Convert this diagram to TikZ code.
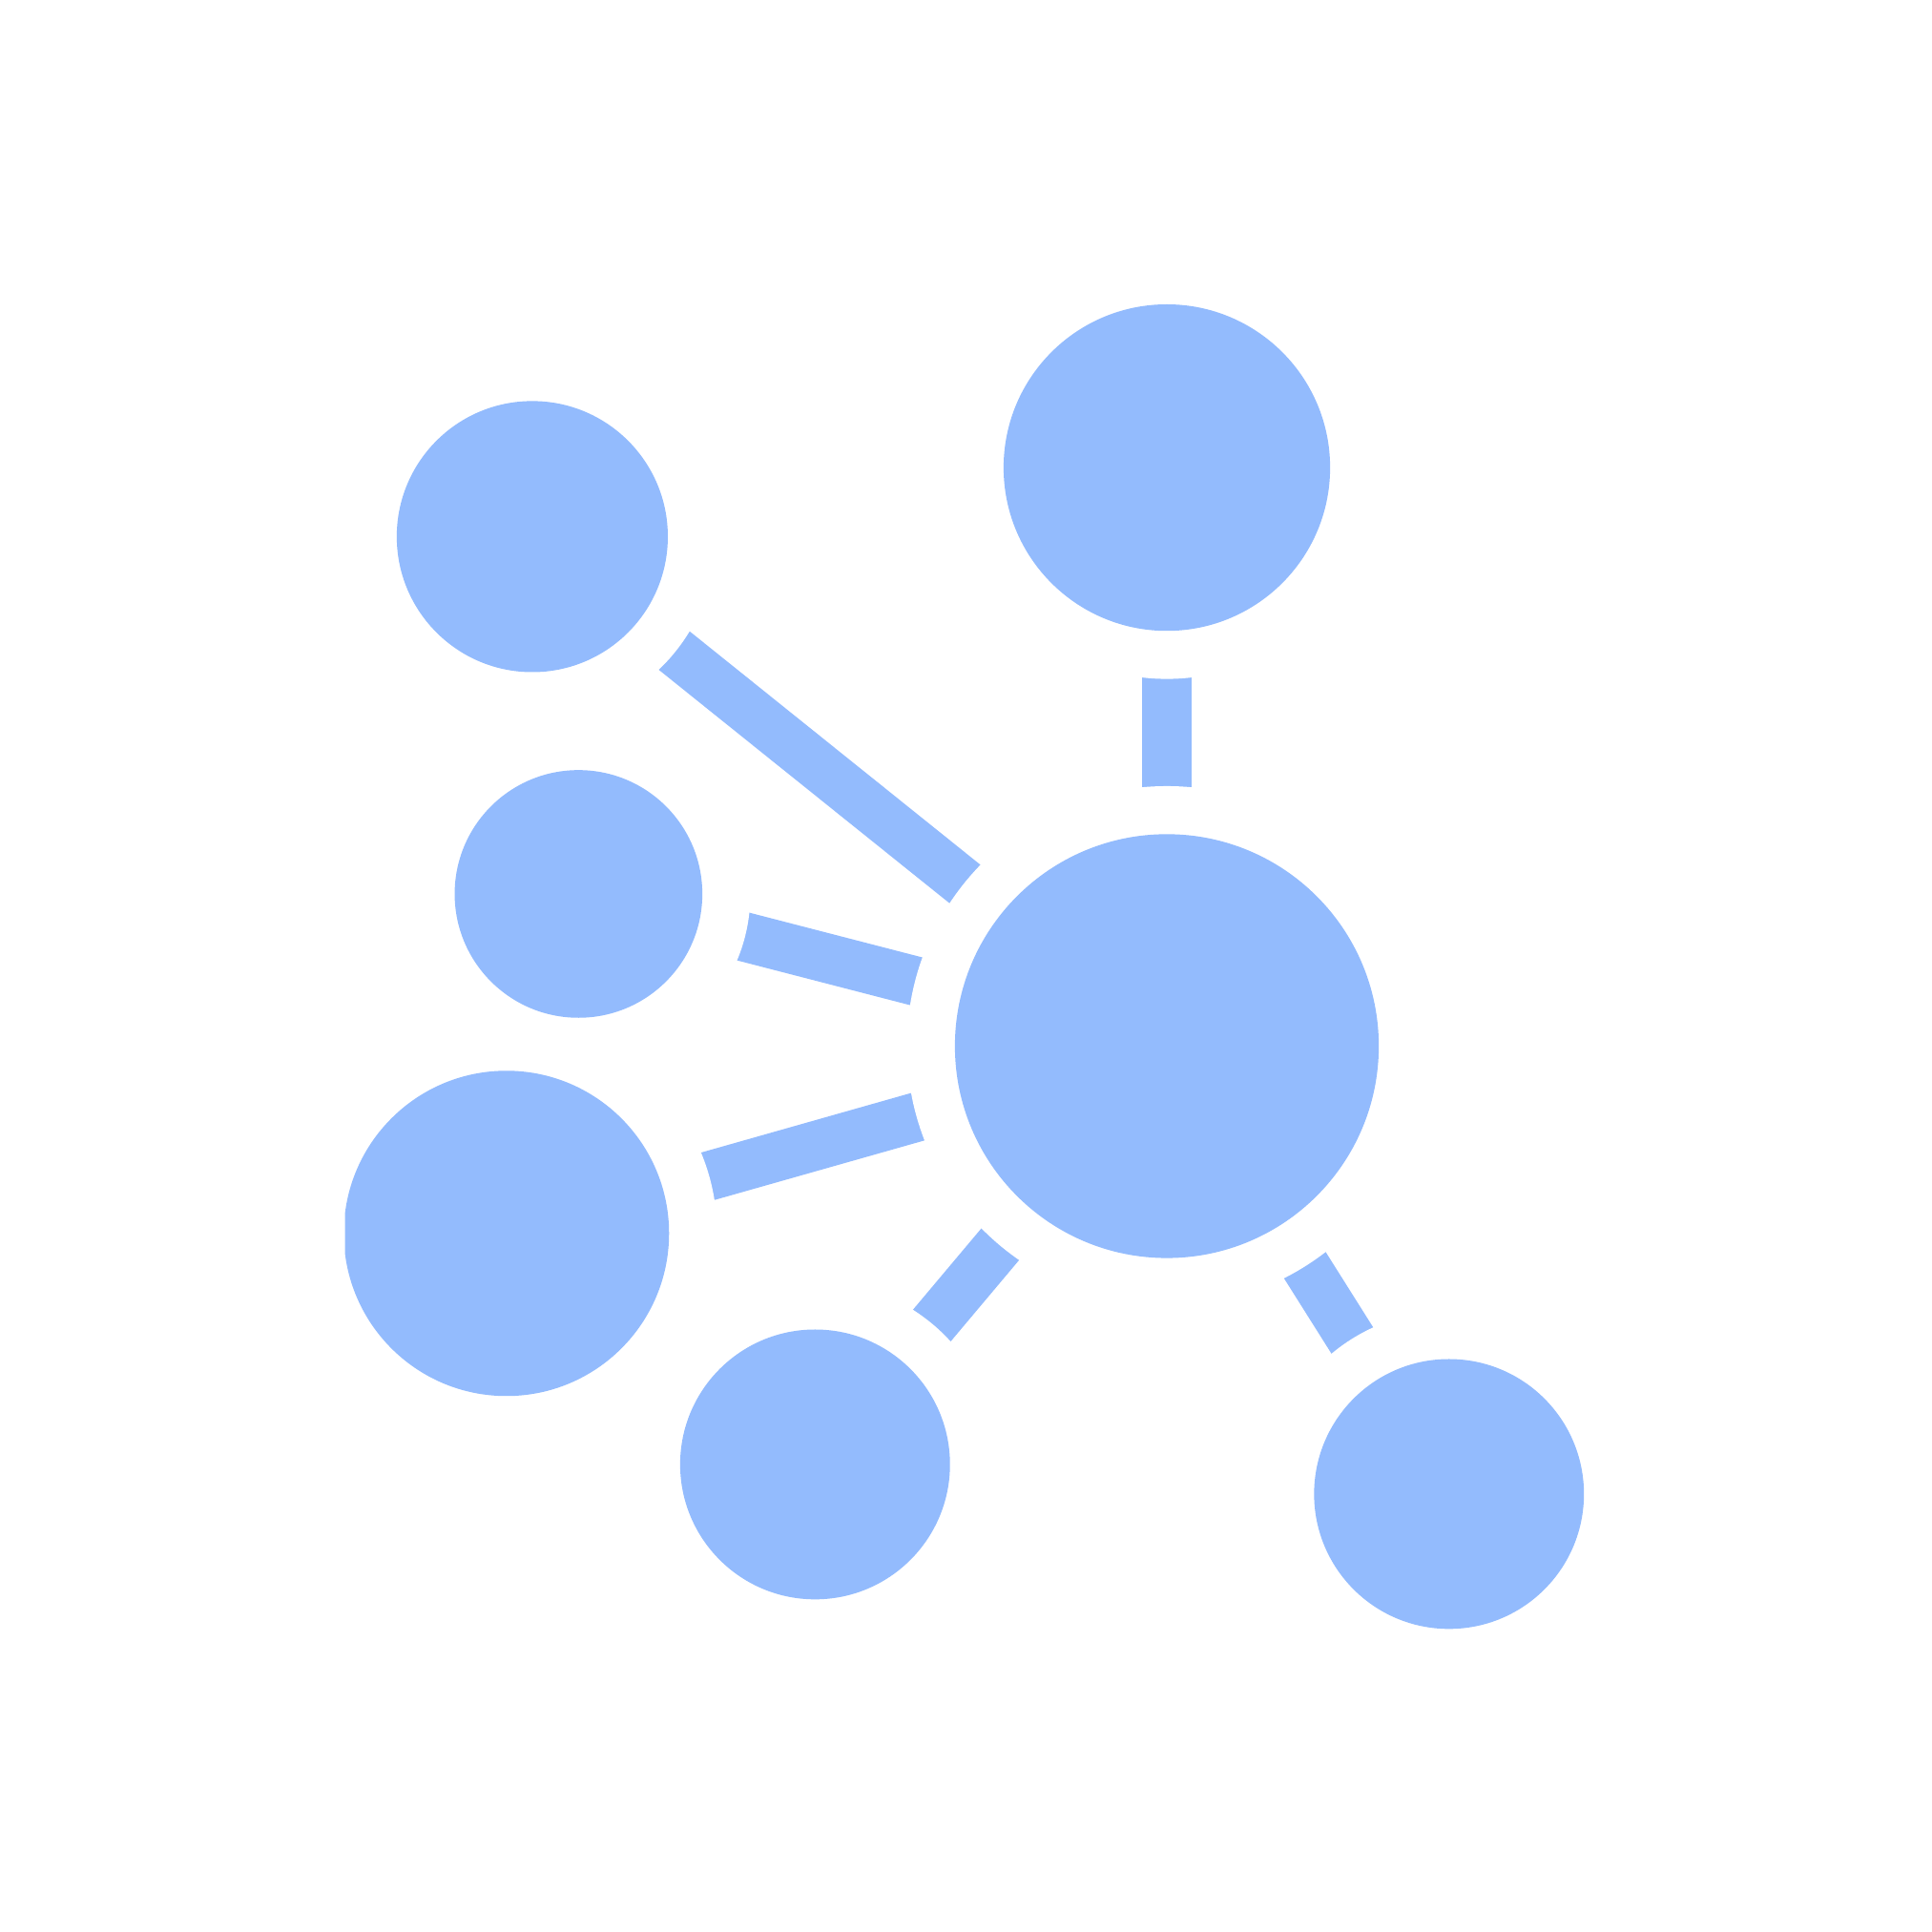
\documentclass[tikz,border=0pt]{standalone}
\usetikzlibrary{backgrounds}
\definecolor{molblue}{RGB}{147,187,253}
\tikzset{
  atom/.style={circle, inner sep=0pt, outer sep=0pt, fill=molblue, minimum size=#1,
    preaction={draw=white, line width=78pt}},
  bond/.style={draw=molblue, line width=40pt}
}
\begin{document}
\begin{tikzpicture}[x=1pt, y=-1pt]
\useasboundingbox (0,0) rectangle (1568,1568);
\node[atom=344pt] (c) at (947,849) {};
\node[atom=265pt] (t) at (947,379.5) {};
\node[atom=220pt] (ul) at (432,435.5) {};
\node[atom=201pt] (ml) at (469.5,725.5) {};
\begin{scope}
\clip (280,800) rectangle (600,1200);
\node[atom=264pt] (ll) at (411,1001) {};
\end{scope}
\node[atom=219pt] (b) at (661.5,1188.5) {};
\node[atom=219pt] (br) at (1176,1212.5) {};
\begin{scope}[on background layer]
\draw[bond] (c.center) -- (t.center);
\draw[bond] (c.center) -- (ul.center);
\draw[bond] (c.center) -- (ml.center);
\draw[bond] (c.center) -- (ll.center);
\draw[bond] (c.center) -- (b.center);
\draw[bond] (c.center) -- (br.center);
\end{scope}
\end{tikzpicture}
\end{document}
